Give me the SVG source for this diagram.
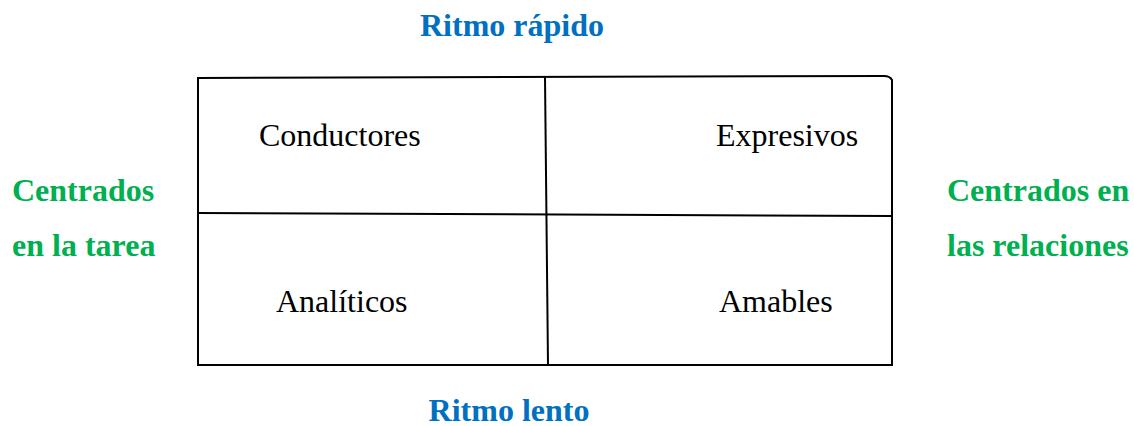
<svg xmlns="http://www.w3.org/2000/svg" width="1134" height="426" viewBox="0 0 1134 426">
<style>
.ln{fill:none;stroke:#000;stroke-width:2}
.q{font-family:"Liberation Serif",serif;font-size:32px;fill:#000}
.ax{font-family:"Liberation Serif",serif;font-size:32px;font-weight:bold}
.blue{fill:#0070C0}
.green{fill:#00B050}
</style>
<rect width="1134" height="426" fill="#fff"/>
<g id="connectors">
<path class="ln" d="M198,78 L884,76 Q890,76 892,80 L892,365 L198,365 Z"/>
<path class="ln" d="M545,77 L548,365"/>
<path class="ln" d="M198,213 L892,216"/>
</g>
<g id="conductores"><text class="q" x="259" y="146">Conductores</text></g>
<g id="expresivos"><text class="q" x="716" y="146">Expresivos</text></g>
<g id="analiticos"><text class="q" x="276" y="312">Analíticos</text></g>
<g id="amables"><text class="q" x="719" y="312">Amables</text></g>
<g id="ritmo-rapido"><text class="ax blue" x="512" y="36" text-anchor="middle">Ritmo rápido</text></g>
<g id="ritmo-lento"><text class="ax blue" x="509" y="421" text-anchor="middle">Ritmo lento</text></g>
<g id="tarea"><text class="ax green" x="12" y="201">Centrados</text><text class="ax green" x="12" y="256">en la tarea</text></g>
<g id="relaciones"><text class="ax green" x="947" y="201">Centrados en</text><text class="ax green" x="947" y="256">las relaciones</text></g>
</svg>
